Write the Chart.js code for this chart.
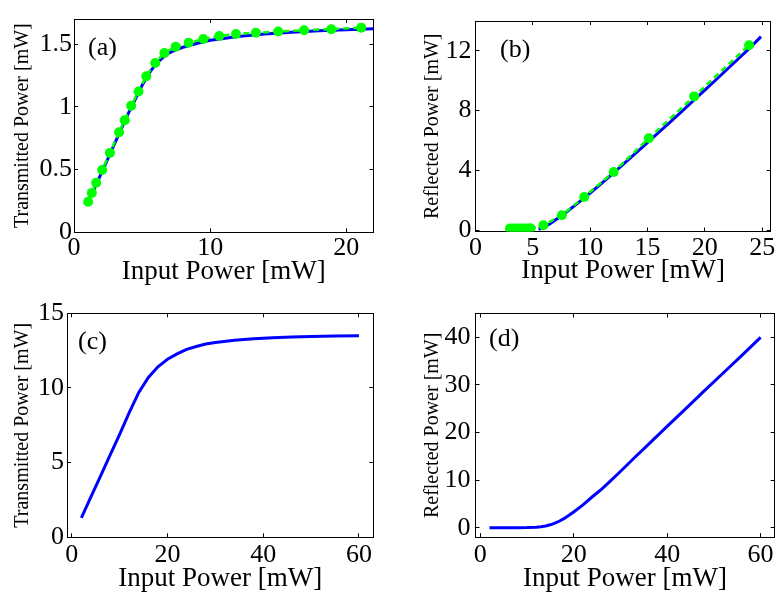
<!DOCTYPE html>
<html><head><meta charset="utf-8">
<script src="https://cdn.jsdelivr.net/npm/chart.js@4.4.1/dist/chart.umd.min.js"></script>
<style>
html,body{margin:0;padding:0;background:#fff;}
#wrap{position:relative;width:783px;height:595px;overflow:hidden;background:#fff;}
#wrap canvas{position:absolute;left:0;top:0;width:783px;height:595px;}
</style></head><body>
<div id="wrap">
<canvas id="ca" width="783" height="595"></canvas>
<canvas id="cb" width="783" height="595"></canvas>
<canvas id="cc" width="783" height="595"></canvas>
<canvas id="cd" width="783" height="595"></canvas>
</div>
<script>
// ---- Panel (a): transmitted power, experiment (green) and model (blue)
const aExpX = [1.04, 1.31, 1.63, 2.07, 2.64, 3.31, 3.73, 4.2, 4.74, 5.31, 5.97, 6.64, 7.46, 8.42, 9.5, 10.67, 11.9, 13.36, 15.0, 16.9, 18.9, 21.1];
const aExpY = [0.243, 0.314, 0.395, 0.496, 0.633, 0.798, 0.894, 1.008, 1.122, 1.244, 1.35, 1.429, 1.479, 1.51, 1.54, 1.565, 1.58, 1.59, 1.60, 1.611, 1.619, 1.631];
const aModelX = [1, 1.5, 2, 2.5, 3, 3.5, 4, 4.5, 5, 5.5, 6, 6.5, 7, 7.5, 8, 9, 10, 11, 12, 14, 16, 18, 20, 22];
const aModelY = [0.24, 0.35, 0.47, 0.59, 0.71, 0.83, 0.95, 1.06, 1.17, 1.265, 1.34, 1.39, 1.43, 1.455, 1.475, 1.505, 1.53, 1.545, 1.56, 1.58, 1.595, 1.607, 1.615, 1.622];
// ---- Panel (b): reflected power
const bExpX = [3.0, 3.3, 3.6, 3.9, 4.2, 4.5, 4.8, 5.92, 7.53, 9.48, 12.05, 15.12, 19.07, 23.86];
const bExpY = [0.1, 0.1, 0.1, 0.1, 0.1, 0.1, 0.12, 0.32, 0.99, 2.21, 3.89, 6.15, 8.95, 12.38];
const bModelX = [5.5, 6, 6.5, 7, 7.5, 8, 9, 10, 11, 12, 13, 14, 15, 16, 17, 18, 19, 20, 21, 22, 23, 24, 24.9];
const bModelY = [0.05, 0.2, 0.42, 0.68, 0.95, 1.24, 1.85, 2.48, 3.13, 3.8, 4.48, 5.16, 5.85, 6.55, 7.25, 7.95, 8.66, 9.37, 10.08, 10.8, 11.52, 12.25, 12.95];
// ---- Panel (c): transmitted power, model
const cX = [2, 4, 6, 8, 10, 12, 14, 16, 18, 20, 22, 24, 26, 28, 30, 34, 38, 42, 46, 50, 55, 60];
const cY = [1.3, 2.7, 4.1, 5.5, 6.9, 8.35, 9.7, 10.7, 11.42, 11.92, 12.28, 12.58, 12.78, 12.94, 13.05, 13.2, 13.3, 13.37, 13.42, 13.45, 13.48, 13.5];
// ---- Panel (d): reflected power, model
const dX = [2, 4, 6, 8, 10, 12, 13, 14, 15, 16, 17, 18, 19, 20, 22, 24, 26, 28, 30, 33, 36, 40, 44, 48, 52, 56, 60];
const dY = [0, 0, 0, 0, 0.02, 0.1, 0.2, 0.35, 0.6, 0.95, 1.4, 1.95, 2.6, 3.3, 4.8, 6.5, 8.1, 9.95, 11.8, 14.7, 17.5, 21.3, 25.0, 28.8, 32.5, 36.2, 40.0];
// ---- Labels
const xTitle = 'Input Power [mW]';
const yTitleT = 'Transmitted Power [mW]';
const yTitleR = 'Reflected Power [mW]';
const panelNames = ['(a)', '(b)', '(c)', '(d)'];

const FAM = "'Liberation Serif', 'Times New Roman', serif";
const BLUE = '#0000ff';
const GREEN = '#00ff00';

function pts(xs, ys) { return xs.map((x, i) => ({x: x, y: ys[i]})); }
function fmt(v) { return String(Math.round(v * 100) / 100); }

const panelLabel = {
  id: 'panelLabel',
  afterDatasetsDraw(chart, args, o) {
    const ctx = chart.ctx, ca = chart.chartArea;
    ctx.save();
    ctx.font = '26px ' + FAM;
    ctx.fillStyle = '#000';
    ctx.textBaseline = 'middle';
    ctx.textAlign = 'left';
    ctx.fillText(o.text, ca.left + o.dx, ca.top + o.dy);
    ctx.restore();
  }
};

function gridOpt() {
  return {drawOnChartArea: false, drawTicks: true, tickLength: -4, color: '#000', lineWidth: 1};
}
function borderOpt() { return {display: true, color: '#000', width: 1}; }

function makeChart(id, p) {
  const tickFont = {family: FAM, size: 26, lineHeight: 1};
  const cfg = {
    type: 'line',
    data: {datasets: p.datasets},
    options: {
      responsive: false, animation: false, devicePixelRatio: 1,
      layout: {padding: p.pad},
      plugins: {legend: {display: false}, tooltip: {enabled: false}, panelLabel: p.label},
      elements: {line: {tension: 0}},
      scales: {
        x: {type: 'linear', position: 'bottom', min: p.xMin, max: p.xMax,
          ticks: {stepSize: p.xStep, autoSkip: false, includeBounds: false, maxRotation: 0, color: '#000', font: tickFont, padding: p.xTickPad, callback: fmt},
          grid: gridOpt(), border: borderOpt(),
          title: {display: true, text: xTitle, color: '#000', font: {family: FAM, size: 27, lineHeight: 1}, padding: {top: 0, bottom: p.xTitlePad}},
          afterFit(s) { s.height = p.xH; }},
        x2: {type: 'linear', position: 'top', min: p.xMin, max: p.xMax,
          ticks: {stepSize: p.xStep, autoSkip: false, includeBounds: false, display: false},
          grid: gridOpt(), border: borderOpt(),
          afterFit(s) { s.height = 0; }},
        y: {type: 'linear', position: 'left', min: p.yMin, max: p.yMax,
          ticks: {stepSize: p.yStep, autoSkip: false, includeBounds: false, color: '#000', font: tickFont, padding: p.yTickPad, callback: fmt},
          grid: gridOpt(), border: borderOpt(),
          title: {display: true, text: p.yTitle, color: '#000', font: {family: FAM, size: 20, lineHeight: 1}, padding: {top: p.yTitlePad, bottom: 0}},
          afterFit(s) { s.width = p.yW; }},
        y2: {type: 'linear', position: 'right', min: p.yMin, max: p.yMax,
          ticks: {stepSize: p.yStep, autoSkip: false, includeBounds: false, display: false},
          grid: gridOpt(), border: borderOpt(),
          afterFit(s) { s.width = 0; }}
      }
    },
    plugins: [panelLabel]
  };
  return new Chart(document.getElementById(id), cfg);
}

function expSet(xs, ys) {
  return {data: pts(xs, ys), borderColor: GREEN, backgroundColor: GREEN, borderWidth: 2.5, borderDash: [6, 4],
    pointRadius: 5, pointBackgroundColor: GREEN, pointBorderWidth: 0, xAxisID: 'x', yAxisID: 'y'};
}
function modelSet(xs, ys) {
  return {data: pts(xs, ys), borderColor: BLUE, backgroundColor: BLUE, borderWidth: 3, pointRadius: 0, xAxisID: 'x', yAxisID: 'y'};
}

makeChart('ca', {
  datasets: [expSet(aExpX, aExpY), modelSet(aModelX, aModelY)],
  xMin: 0, xMax: 22, xStep: 10, yMin: 0, yMax: 1.7, yStep: 0.5,
  pad: {left: 0, right: 409.5, top: 9.3, bottom: 302.7}, yW: 74, xH: 60,
  yTitle: yTitleT, yTitlePad: 13, xTitlePad: 7, xTickPad: 7, yTickPad: 6,
  label: {text: panelNames[0], dx: 14, dy: 29}
});
makeChart('cb', {
  datasets: [expSet(bExpX, bExpY), modelSet(bModelX, bModelY)],
  xMin: 0, xMax: 25.75, xStep: 5, yMin: -0.1, yMax: 14, yStep: 4,
  pad: {left: 400, right: 3.5, top: 8.3, bottom: 303.5}, yW: 75.5, xH: 60,
  yTitle: yTitleR, yTitlePad: 23, xTitlePad: 7, xTickPad: 7.5, yTickPad: 8,
  label: {text: panelNames[1], dx: 24.5, dy: 29}
});
makeChart('cc', {
  datasets: [modelSet(cX, cY)],
  xMin: -1, xMax: 63, xStep: 20, yMin: 0, yMax: 15, yStep: 5,
  pad: {left: 0, right: 409.7, top: 313.3, bottom: 2.7}, yW: 67, xH: 55,
  yTitle: yTitleT, yTitlePad: 13, xTitlePad: 0, xTickPad: 9, yTickPad: 7,
  label: {text: panelNames[2], dx: 11, dy: 29}
});
makeChart('cd', {
  datasets: [modelSet(dX, dY)],
  xMin: -1, xMax: 63, xStep: 20, yMin: -2, yMax: 45, yStep: 10,
  pad: {left: 400, right: 1, top: 313.5, bottom: 2.8}, yW: 75.5, xH: 55,
  yTitle: yTitleR, yTitlePad: 23, xTitlePad: 0, xTickPad: 9, yTickPad: 9,
  label: {text: panelNames[3], dx: 13.5, dy: 26}
});
</script>
</body></html>
